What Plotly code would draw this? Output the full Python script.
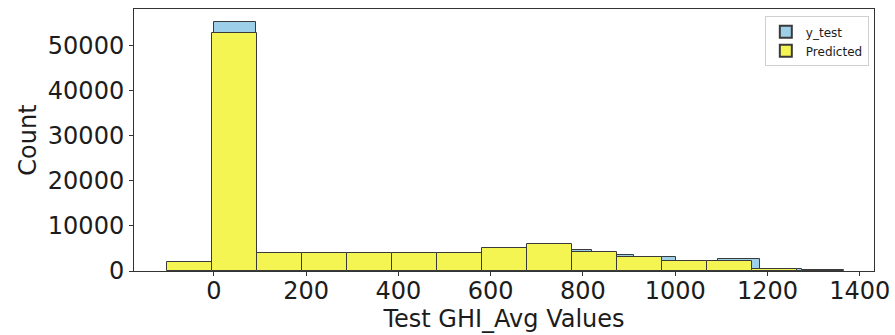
import plotly.graph_objects as go

# y_test histogram: bin edges and counts
y_test_edges = [0, 91, 182, 273, 364, 455, 546, 637, 728, 819, 910, 1001, 1092, 1183, 1274, 1365]
y_test_counts = [55200, 3800, 3750, 3750, 3800, 3800, 4100, 5000, 4700, 3500, 3150, 2100, 2600, 500, 300]

# Predicted histogram: bin edges and counts
pred_edges = [-101, -3.5, 94, 191.5, 289, 386.5, 484, 581.5, 679, 776.5, 874, 971.5, 1069, 1166.5, 1264]
pred_counts = [2000, 52800, 4100, 4100, 4100, 4100, 4100, 5000, 6100, 4200, 3100, 2200, 2200, 530]

x_ticks = [0, 200, 400, 600, 800, 1000, 1200, 1400]
y_ticks = [0, 10000, 20000, 30000, 40000, 50000]


def centers_widths(edges):
    c = [(edges[i] + edges[i + 1]) / 2 for i in range(len(edges) - 1)]
    w = [edges[i + 1] - edges[i] for i in range(len(edges) - 1)]
    return c, w


yc, yw = centers_widths(y_test_edges)
pc, pw = centers_widths(pred_edges)

FONT = "DejaVu Sans"
TXT = "#1c1c1c"

fig = go.Figure()
fig.add_trace(go.Bar(
    x=yc, y=y_test_counts, width=yw, name="y_test",
    marker=dict(color="#9ecfe9", line=dict(color="#3a3a3a", width=1)),
))
fig.add_trace(go.Bar(
    x=pc, y=pred_counts, width=pw, name="Predicted",
    marker=dict(color="#f4f452", line=dict(color="#3a3a3a", width=1)),
))

fig.update_layout(
    width=895, height=335,
    margin=dict(l=134, r=21, t=9, b=64, autoexpand=False),
    barmode="overlay", bargap=0,
    plot_bgcolor="white", paper_bgcolor="white",
    font=dict(family=FONT, color=TXT),
    legend=dict(
        x=0.993, y=0.972, xanchor="right", yanchor="top",
        bgcolor="white", bordercolor="#d0d0d0", borderwidth=1,
        font=dict(size=12, family=FONT, color=TXT),
        itemsizing="constant", tracegroupgap=0,
    ),
    showlegend=True,
)

fig.update_xaxes(
    range=[-173, 1431],
    tickvals=x_ticks, ticktext=[str(v) for v in x_ticks],
    showgrid=False, zeroline=False,
    showline=True, mirror=True, linecolor="#333333", linewidth=1,
    ticks="outside", ticklen=4, tickcolor="#333333",
    tickfont=dict(size=24, family=FONT, color=TXT),
    ticklabelstandoff=-6,
    title=dict(text="Test GHI_Avg Values", font=dict(size=24, family=FONT, color=TXT), standoff=4),
    automargin=False,
)
fig.update_yaxes(
    range=[0, 58170],
    tickvals=y_ticks, ticktext=[str(v) for v in y_ticks],
    showgrid=False, zeroline=False,
    showline=True, mirror=True, linecolor="#333333", linewidth=1,
    ticks="outside", ticklen=4, tickcolor="#333333",
    tickfont=dict(size=24, family=FONT, color=TXT),
    title=dict(text="Count", font=dict(size=24, family=FONT, color=TXT), standoff=4),
    automargin=False,
)

fig.write_html("out.html")
